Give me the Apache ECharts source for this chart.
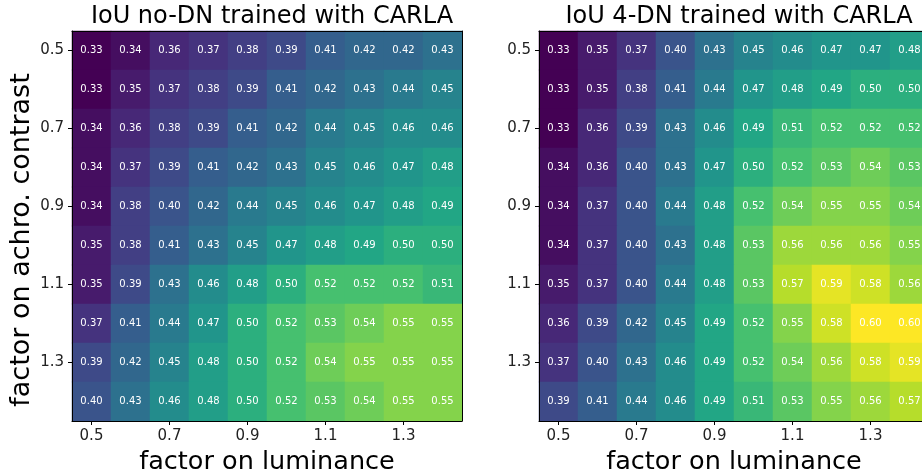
<!DOCTYPE html>
<html>
<head>
<meta charset="utf-8">
<script src="https://cdn.jsdelivr.net/npm/echarts@6/dist/echarts.min.js"></script>
<style>
  html, body { margin: 0; padding: 0; background: #fff; }
  #chart { width: 922px; height: 474px; }
</style>
</head>
<body>
<div id="chart"></div>
<script>
// Factor on luminance (columns) and on achromatic contrast (rows)
const luminanceFactors = ['0.5', '0.6', '0.7', '0.8', '0.9', '1.0', '1.1', '1.2', '1.3', '1.4'];
const contrastFactors  = ['0.5', '0.6', '0.7', '0.8', '0.9', '1.0', '1.1', '1.2', '1.3', '1.4'];

// IoU without divisive normalization, rows = contrast factor
const iouNoDN = [
  [0.33, 0.34, 0.36, 0.37, 0.38, 0.39, 0.41, 0.42, 0.42, 0.43],
  [0.33, 0.35, 0.37, 0.38, 0.39, 0.41, 0.42, 0.43, 0.44, 0.45],
  [0.34, 0.36, 0.38, 0.39, 0.41, 0.42, 0.44, 0.45, 0.46, 0.46],
  [0.34, 0.37, 0.39, 0.41, 0.42, 0.43, 0.45, 0.46, 0.47, 0.48],
  [0.34, 0.38, 0.40, 0.42, 0.44, 0.45, 0.46, 0.47, 0.48, 0.49],
  [0.35, 0.38, 0.41, 0.43, 0.45, 0.47, 0.48, 0.49, 0.50, 0.50],
  [0.35, 0.39, 0.43, 0.46, 0.48, 0.50, 0.52, 0.52, 0.52, 0.51],
  [0.37, 0.41, 0.44, 0.47, 0.50, 0.52, 0.53, 0.54, 0.55, 0.55],
  [0.39, 0.42, 0.45, 0.48, 0.50, 0.52, 0.54, 0.55, 0.55, 0.55],
  [0.40, 0.43, 0.46, 0.48, 0.50, 0.52, 0.53, 0.54, 0.55, 0.55]
];

// IoU with 4 divisive normalization layers
const iou4DN = [
  [0.33, 0.35, 0.37, 0.40, 0.43, 0.45, 0.46, 0.47, 0.47, 0.48],
  [0.33, 0.35, 0.38, 0.41, 0.44, 0.47, 0.48, 0.49, 0.50, 0.50],
  [0.33, 0.36, 0.39, 0.43, 0.46, 0.49, 0.51, 0.52, 0.52, 0.52],
  [0.34, 0.36, 0.40, 0.43, 0.47, 0.50, 0.52, 0.53, 0.54, 0.53],
  [0.34, 0.37, 0.40, 0.44, 0.48, 0.52, 0.54, 0.55, 0.55, 0.54],
  [0.34, 0.37, 0.40, 0.43, 0.48, 0.53, 0.56, 0.56, 0.56, 0.55],
  [0.35, 0.37, 0.40, 0.44, 0.48, 0.53, 0.57, 0.59, 0.58, 0.56],
  [0.36, 0.39, 0.42, 0.45, 0.49, 0.52, 0.55, 0.58, 0.60, 0.60],
  [0.37, 0.40, 0.43, 0.46, 0.49, 0.52, 0.54, 0.56, 0.58, 0.59],
  [0.39, 0.41, 0.44, 0.46, 0.49, 0.51, 0.53, 0.55, 0.56, 0.57]
];

const titles = ['IoU no-DN trained with CARLA', 'IoU 4-DN trained with CARLA'];
const xName = 'factor on luminance';
const yName = 'factor on achro. contrast';

const viridis = ['#440154', '#482475', '#414487', '#355f8d', '#2a788e', '#21918c',
                 '#22a884', '#44bf70', '#7ad151', '#bddf26', '#fde725'];

function toCells(matrix) {
  const out = [];
  matrix.forEach((row, r) => row.forEach((v, c) => out.push([c, r, v])));
  return out;
}

const FONT = 'DejaVu Sans';
const gridLefts = [72, 539];
const SIZE = 390;

const grids = gridLefts.map(l => ({
  left: l, top: 31, width: SIZE, height: SIZE,
  containLabel: false, outerBoundsMode: 'none'
}));

const xAxes = [];
const yAxes = [];
gridLefts.forEach((l, i) => {
  xAxes.push({
    type: 'category', gridIndex: i, data: luminanceFactors, position: 'bottom', z: 10,
    name: xName, nameLocation: 'middle', nameGap: 25,
    nameTextStyle: { fontSize: 25.5, color: '#000', fontFamily: FONT },
    axisLine: { show: true, lineStyle: { color: '#000', width: 1 } },
    axisTick: { show: true, alignWithLabel: true, interval: 1, length: 4, lineStyle: { color: '#000' } },
    axisLabel: { interval: 1, fontSize: 15, color: '#222', fontFamily: FONT, margin: 8 },
    splitLine: { show: false }
  });
  xAxes.push({
    type: 'category', gridIndex: i, data: luminanceFactors, position: 'top', z: 10,
    axisLine: { show: true, lineStyle: { color: '#000', width: 1 } },
    axisTick: { show: false }, axisLabel: { show: false }, splitLine: { show: false }
  });
  yAxes.push({
    type: 'category', gridIndex: i, data: contrastFactors, inverse: true, position: 'left', z: 10,
    name: i === 0 ? yName : '', nameLocation: 'middle', nameGap: 37,
    nameTextStyle: { fontSize: 27, color: '#000', fontFamily: FONT, padding: [0, 28, 0, 0] },
    axisLine: { show: true, lineStyle: { color: '#000', width: 1 } },
    axisTick: { show: true, alignWithLabel: true, interval: 1, length: 4, lineStyle: { color: '#000' } },
    axisLabel: { interval: 1, fontSize: 15, color: '#222', fontFamily: FONT, margin: 8 },
    splitLine: { show: false }
  });
  yAxes.push({
    type: 'category', gridIndex: i, data: contrastFactors, inverse: true, position: 'right', z: 10,
    axisLine: { show: true, lineStyle: { color: '#000', width: 1 } },
    axisTick: { show: false }, axisLabel: { show: false }, splitLine: { show: false }
  });
});

const datasets = [iouNoDN, iou4DN];
const series = datasets.map((m, i) => ({
  type: 'heatmap',
  xAxisIndex: i * 2,
  yAxisIndex: i * 2,
  data: toCells(m),
  label: {
    show: true, color: '#fff', fontSize: 10, fontFamily: FONT,
    formatter: p => p.value[2].toFixed(2)
  },
  itemStyle: { borderWidth: 0 },
  emphasis: { disabled: true }
}));

const chart = echarts.init(document.getElementById('chart'), null, { renderer: 'canvas' });
chart.setOption({
  animation: false,
  backgroundColor: '#fff',
  textStyle: { fontFamily: FONT },
  title: titles.map((t, i) => ({
    text: t,
    left: gridLefts[i] + SIZE / 2,
    top: 0,
    textAlign: 'center',
    textStyle: { fontSize: 24, fontWeight: 'normal', color: '#000', fontFamily: FONT }
  })),
  grid: grids,
  xAxis: xAxes,
  yAxis: yAxes,
  visualMap: {
    show: false, type: 'continuous', min: 0.33, max: 0.60, dimension: 2,
    seriesIndex: [0, 1],
    inRange: { color: viridis }
  },
  series: series
});
</script>
</body>
</html>
